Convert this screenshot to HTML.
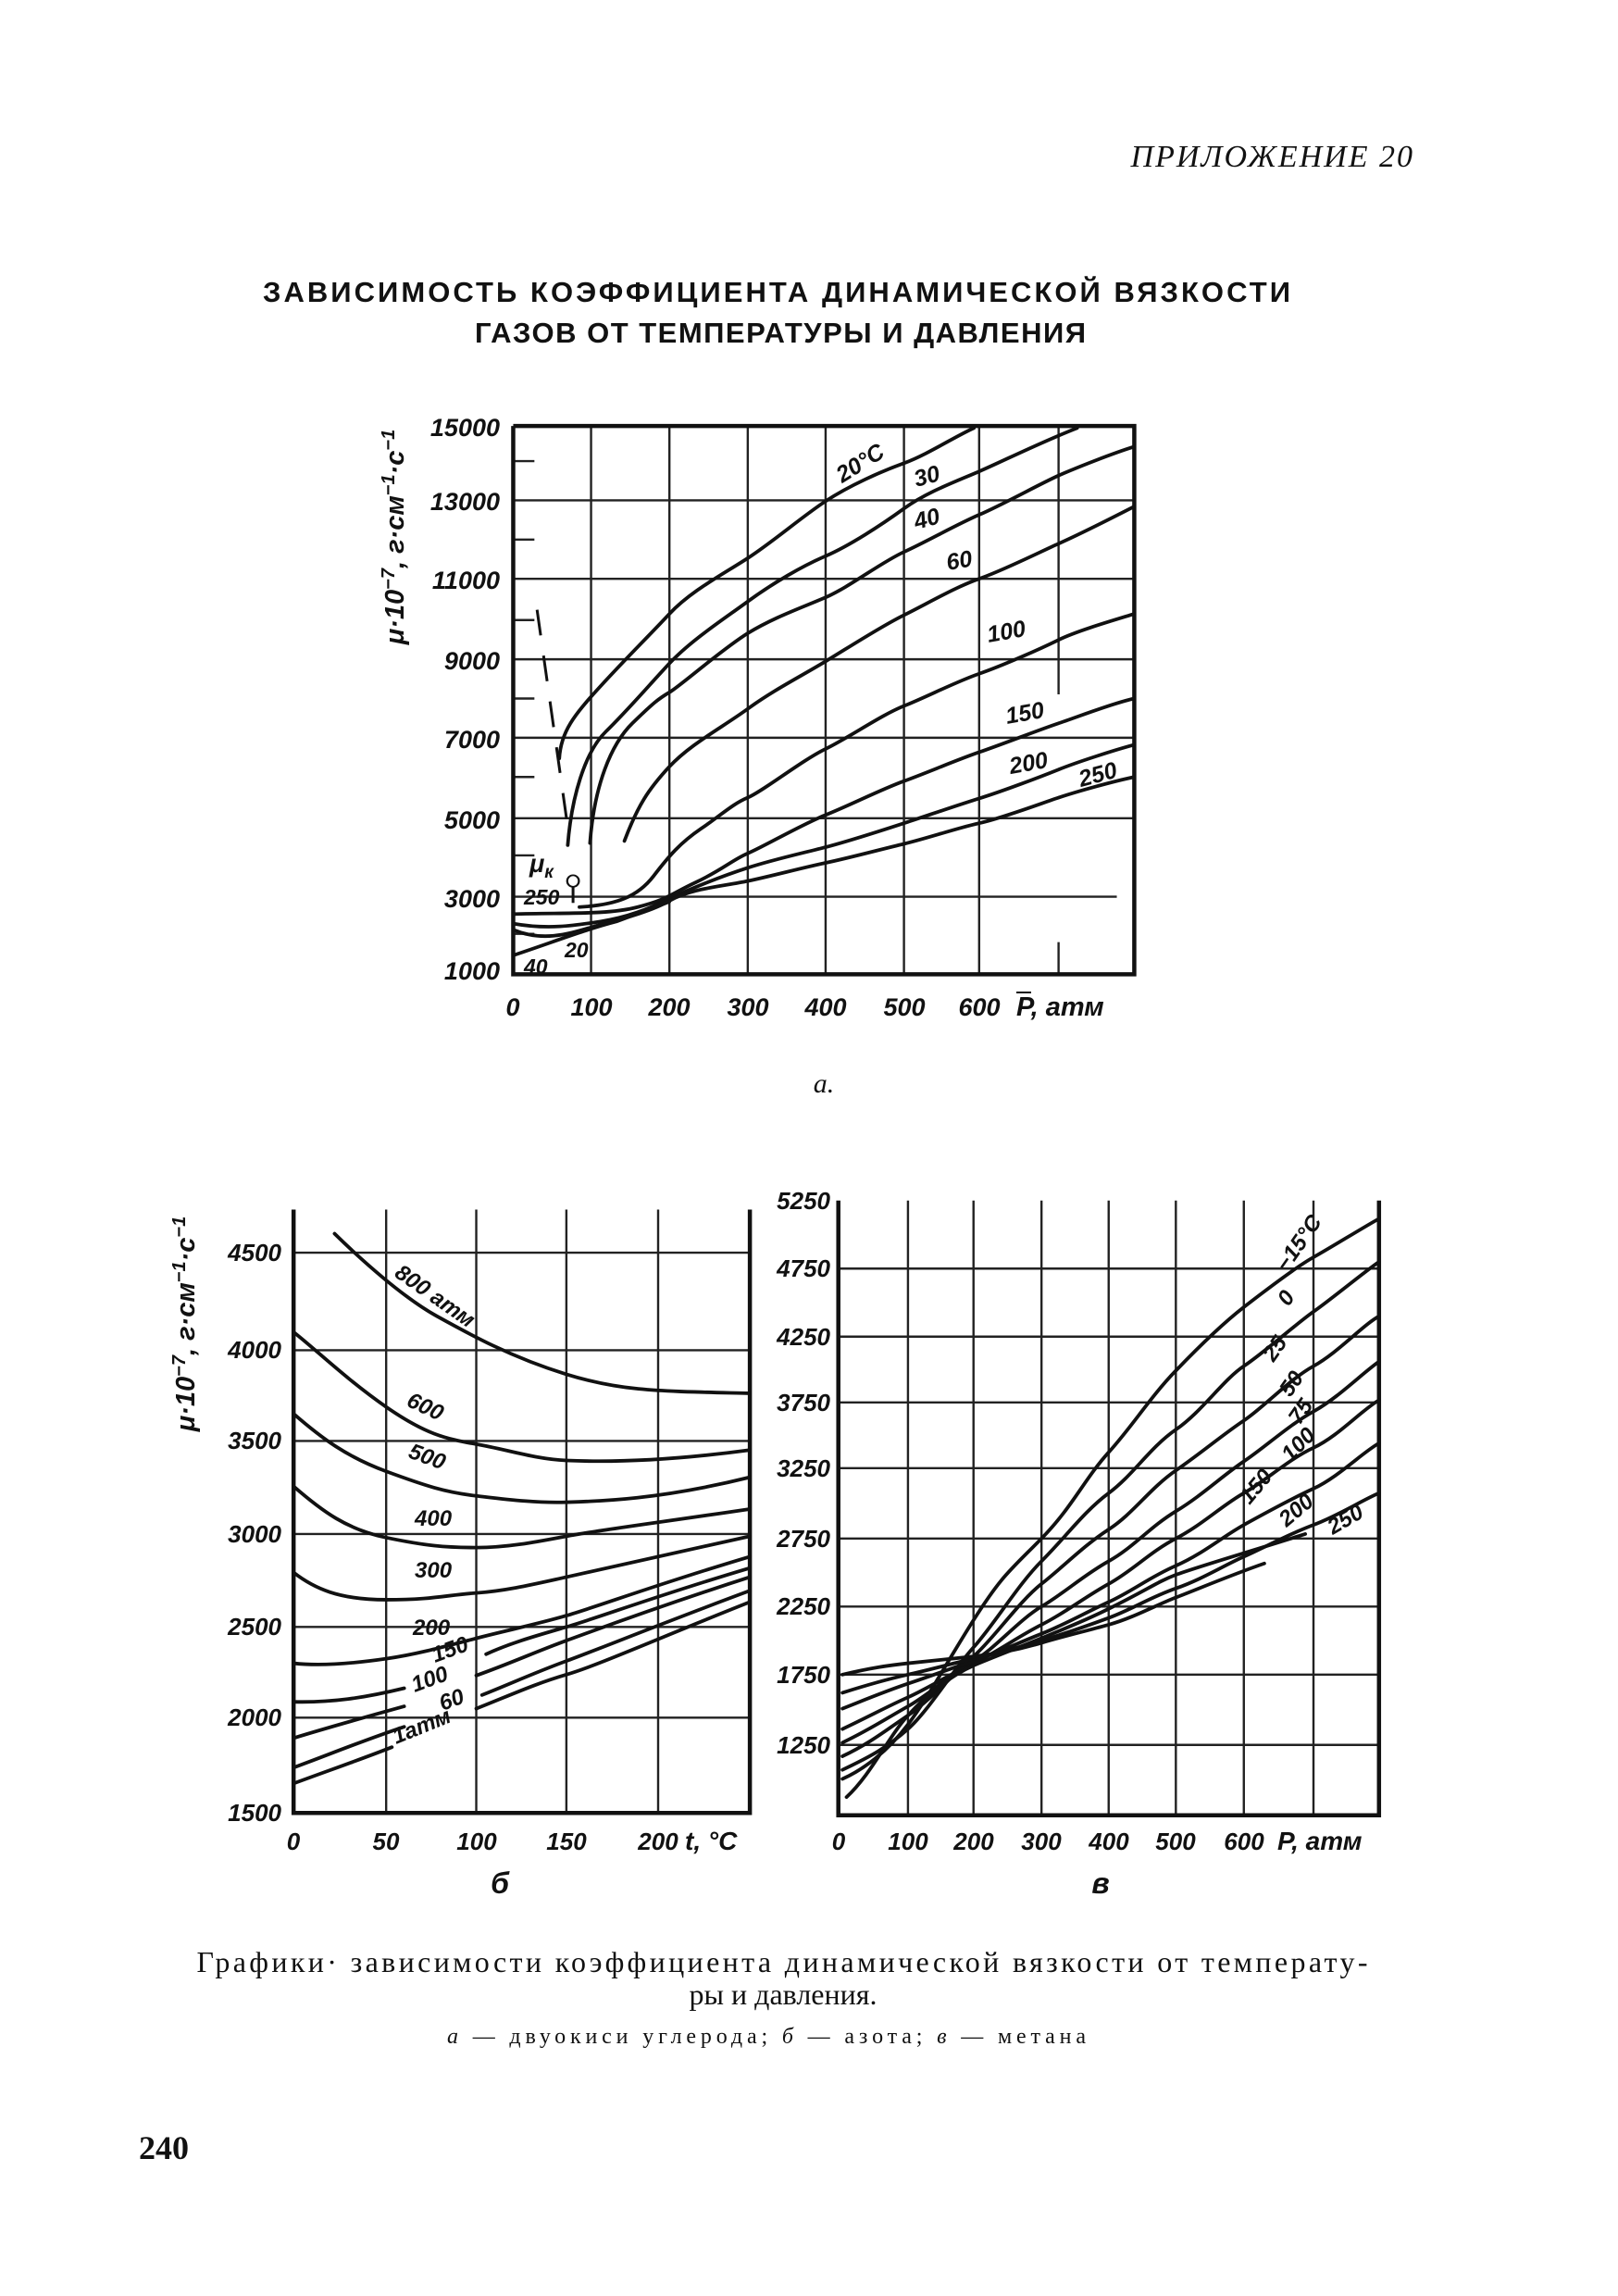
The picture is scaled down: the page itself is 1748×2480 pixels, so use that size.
<!DOCTYPE html>
<html><head><meta charset="utf-8"><style>
html,body{margin:0;padding:0;background:#fff;}
svg{display:block;}
text{font-family:"Liberation Sans","DejaVu Sans",sans-serif;font-style:italic;fill:#111;}
.serif{font-family:"Liberation Serif","DejaVu Serif",serif;font-style:normal;}
.tk{font-weight:bold;}
.c{fill:none;stroke:#111;stroke-width:3.8;stroke-linejoin:round;stroke-linecap:round;}
.g{fill:none;stroke:#222;stroke-width:2.4;}
.ax{fill:none;stroke:#111;stroke-width:4.5;}
</style></head><body>
<svg width="1748" height="2480" viewBox="0 0 1748 2480" xmlns="http://www.w3.org/2000/svg">
<rect width="1748" height="2480" fill="#fff"/>
<text x="1528" y="180" font-size="34" text-anchor="end" class="serif" style="font-style:italic" letter-spacing="2">ПРИЛОЖЕНИЕ 20</text>
<text x="839" y="326" font-size="31" font-weight="900" text-anchor="middle" style="font-style:normal" textLength="1110">ЗАВИСИМОСТЬ КОЭФФИЦИЕНТА ДИНАМИЧЕСКОЙ ВЯЗКОСТИ</text>
<text x="843" y="370" font-size="31" font-weight="900" text-anchor="middle" style="font-style:normal" textLength="660">ГАЗОВ ОТ ТЕМПЕРАТУРЫ И ДАВЛЕНИЯ</text>

<!-- Chart a -->
<g transform="translate(380,420) scale(0.572,0.446)">
<path class="g" vector-effect="non-scaling-stroke" d="M452,90V1418M600,90V1418M748,90V1418M895,90V1418M1043,90V1418M1185,90V1418M1335,90V740M1335,1340V1418M305,270H1478M305,460H1478M305,655H1478M305,845H1478M305,1040H1478M305,1230H1445M305,175H345M305,365H345M305,560H345M305,750H345M305,940H345M305,1130H345M305,1320H345"/>
<path class="ax" vector-effect="non-scaling-stroke" d="M305,90V1418H1478V90H305"/>
<g class="c">
<path vector-effect="non-scaling-stroke" d="M392,895 C395,830 420,790 470,720 S560,600 600,545 S700,450 748,410 S850,310 895,272 S1000,200 1043,180 S1140,115 1175,95"/>
<path vector-effect="non-scaling-stroke" d="M408,1105 C415,990 440,880 480,830 S560,720 600,665 S700,560 748,515 S850,430 895,405 S1000,330 1043,290 S1140,225 1185,200 S1300,130 1370,95"/>
<path vector-effect="non-scaling-stroke" d="M450,1100 C458,960 490,860 530,810 S580,750 600,735 S700,630 748,592 S850,530 895,505 S1000,420 1043,395 S1140,330 1185,305 S1300,230 1335,210 S1440,155 1478,140"/>
<path vector-effect="non-scaling-stroke" d="M515,1095 C540,1010 560,970 600,915 S700,820 748,775 S850,695 895,660 S1000,575 1043,548 S1140,480 1185,460 S1300,395 1335,375 S1440,310 1478,285"/>
<path vector-effect="non-scaling-stroke" d="M430,1255 C500,1250 540,1230 570,1180 S620,1100 660,1065 S720,1005 748,990 S850,900 895,872 S1000,790 1043,768 S1140,710 1185,690 S1300,630 1335,608 S1440,560 1478,545"/>
<path vector-effect="non-scaling-stroke" d="M305,1272 C400,1268 480,1275 540,1255 S600,1225 650,1195 S720,1140 748,1125 S850,1055 895,1032 S1000,970 1043,950 S1140,900 1185,880 S1300,825 1335,810 S1440,760 1478,750"/>
<path vector-effect="non-scaling-stroke" d="M305,1295 C370,1310 420,1300 470,1290 S560,1260 600,1235 S700,1180 748,1160 S850,1125 895,1110 S1000,1070 1043,1052 S1140,1010 1185,992 S1300,940 1335,922 S1440,875 1478,862"/>
<path vector-effect="non-scaling-stroke" d="M305,1310 C360,1340 410,1320 450,1305 S560,1270 600,1240 S700,1205 748,1192 S850,1160 895,1148 S1000,1115 1043,1102 S1140,1065 1185,1052 S1300,1005 1335,990 S1440,950 1478,940"/>
<path vector-effect="non-scaling-stroke" d="M305,1372 C380,1340 440,1310 500,1290 L600,1242"/>
</g>
<path vector-effect="non-scaling-stroke" d="M350,535 L410,1080" stroke="#111" stroke-width="3" stroke-dasharray="28,22" fill="none"/>
<path vector-effect="non-scaling-stroke" d="M418,1205 V1245" stroke="#111" stroke-width="3" fill="none"/>
<ellipse cx="418" cy="1192" rx="11" ry="14" fill="none" stroke="#111" stroke-width="4"/>
</g>
<g font-size="27" text-anchor="end" class="tk">
<text x="540" y="471">15000</text><text x="540" y="551">13000</text><text x="540" y="636">11000</text><text x="540" y="723">9000</text><text x="540" y="808">7000</text><text x="540" y="895">5000</text><text x="540" y="980">3000</text><text x="540" y="1058">1000</text>
</g>
<g font-size="27" text-anchor="middle" class="tk">
<text x="554" y="1097">0</text><text x="639" y="1097">100</text><text x="723" y="1097">200</text><text x="808" y="1097">300</text><text x="892" y="1097">400</text><text x="977" y="1097">500</text><text x="1058" y="1097">600</text>
</g>
<text x="1098" y="1097" font-size="29" class="tk">P, атм</text>
<path d="M1098,1072 H1114" stroke="#111" stroke-width="2"/>
<text x="0" y="0" font-size="29" text-anchor="middle" class="tk" transform="translate(436,580) rotate(-90)">μ·10<tspan dy="-10" font-size="20">−7</tspan><tspan dy="10">, г·см</tspan><tspan dy="-10" font-size="20">−1</tspan><tspan dy="10">·с</tspan><tspan dy="-10" font-size="20">−1</tspan></text>
<g font-size="25" class="tk">
<text transform="translate(910,522) rotate(-32)">20°C</text>
<text transform="translate(990,526) rotate(-15)">30</text>
<text transform="translate(990,572) rotate(-15)">40</text>
<text transform="translate(1024,616) rotate(-10)">60</text>
<text transform="translate(1068,694) rotate(-10)">100</text>
<text transform="translate(1088,782) rotate(-10)">150</text>
<text transform="translate(1092,836) rotate(-10)">200</text>
<text transform="translate(1168,850) rotate(-15)">250</text>
<text x="572" y="942" font-size="27">μ<tspan font-size="19" dy="6">к</tspan></text>
<text x="566" y="977" font-size="23">250</text>
<text x="566" y="1052" font-size="23">40</text>
<text x="610" y="1034" font-size="23">20</text>
</g>
<text x="890" y="1180" font-size="30" text-anchor="middle" class="serif" style="font-style:italic">а.</text>

<!-- Charts b and в -->
<g transform="translate(180,1260) scale(0.885,0.49)">
<path class="g" vector-effect="non-scaling-stroke" d="M268,95V1425M378,95V1425M488,95V1425M600,95V1425M155,190H712M155,405H712M155,605H712M155,810H712M155,1015H712M155,1215H712"/>
<path class="ax" vector-effect="non-scaling-stroke" d="M155,95V1425H712V95"/>
<path class="g" vector-effect="non-scaling-stroke" d="M905,75V1430M985,75V1430M1068,75V1430M1150,75V1430M1232,75V1430M1315,75V1430M1400,75V1430M820,225H1480M820,375H1480M820,520H1480M820,665H1480M820,820H1480M820,970H1480M820,1120H1480M820,1275H1480"/>
<path class="ax" vector-effect="non-scaling-stroke" d="M820,75V1430H1480V75"/>
<g class="c">
<path vector-effect="non-scaling-stroke" d="M205,148 C240,210 290,290 330,330 S420,420 488,458 S600,495 712,500"/>
<path vector-effect="non-scaling-stroke" d="M155,365 C180,400 220,470 268,530 S340,600 378,612 S450,645 488,648 S600,652 712,625"/>
<path vector-effect="non-scaling-stroke" d="M155,545 C190,600 220,640 268,672 S340,718 378,726 S450,742 488,740 S600,735 712,685"/>
<path vector-effect="non-scaling-stroke" d="M155,705 C190,760 220,800 268,818 S340,840 378,840 S450,828 488,815 S600,785 712,755"/>
<path vector-effect="non-scaling-stroke" d="M155,895 C180,930 210,955 268,955 S340,945 378,940 S450,920 488,905 S600,860 712,815"/>
<path vector-effect="non-scaling-stroke" d="M155,1095 C190,1102 230,1095 268,1085 S340,1058 378,1040 S450,1010 488,990 S600,920 712,860"/>
<path vector-effect="non-scaling-stroke" d="M155,1180 C200,1182 240,1172 290,1150 M390,1075 C420,1050 450,1035 488,1015 S600,945 712,885"/>
<path vector-effect="non-scaling-stroke" d="M155,1260 C200,1235 240,1215 290,1190 M378,1122 C420,1095 450,1070 488,1045 S600,970 712,905"/>
<path vector-effect="non-scaling-stroke" d="M155,1325 C200,1295 240,1265 290,1235 M385,1165 C420,1140 450,1115 488,1090 S600,1010 712,935"/>
<path vector-effect="non-scaling-stroke" d="M155,1360 C200,1330 240,1305 275,1280 M378,1195 C420,1165 450,1140 488,1120 S600,1040 712,960"/>
<path vector-effect="non-scaling-stroke" d="M825,1350 C850,1330 880,1290 905,1230 S950,1100 985,1000 S1030,890 1068,820 S1120,690 1150,630 S1200,510 1232,450 S1290,345 1315,310 S1380,220 1400,200 S1460,135 1480,115"/>
<path vector-effect="non-scaling-stroke" d="M825,1330 C860,1300 880,1280 905,1240 S960,1110 985,1060 S1040,920 1068,870 S1120,760 1150,720 S1200,620 1232,580 S1290,470 1315,440 S1380,345 1400,320 S1460,235 1480,210"/>
<path vector-effect="non-scaling-stroke" d="M825,1300 C860,1270 880,1240 905,1210 S960,1120 985,1080 S1040,960 1068,920 S1120,835 1150,800 S1200,710 1232,670 S1290,590 1315,560 S1370,470 1400,440 S1460,350 1480,330"/>
<path vector-effect="non-scaling-stroke" d="M825,1270 C860,1240 880,1215 905,1190 S960,1115 985,1090 S1040,1000 1068,970 S1120,900 1150,870 S1200,795 1232,760 S1290,680 1315,650 S1370,570 1400,540 S1460,455 1480,430"/>
<path vector-effect="non-scaling-stroke" d="M825,1240 C860,1210 880,1190 905,1170 S960,1115 985,1095 S1040,1035 1068,1010 S1120,950 1150,920 S1200,850 1232,820 S1290,745 1315,720 S1370,645 1400,620 S1460,535 1480,515"/>
<path vector-effect="non-scaling-stroke" d="M825,1195 C860,1170 880,1155 905,1140 S960,1105 985,1090 S1040,1050 1068,1030 S1120,985 1150,960 S1200,905 1232,880 S1290,815 1315,790 S1370,735 1400,710 S1460,630 1480,610"/>
<path vector-effect="non-scaling-stroke" d="M825,1160 C860,1140 880,1130 905,1120 S960,1095 985,1085 S1040,1060 1068,1045 S1120,1015 1150,995 S1200,950 1232,930 S1290,880 1315,860 S1370,810 1400,790 S1460,735 1480,720"/>
<path vector-effect="non-scaling-stroke" d="M825,1120 C860,1105 880,1100 905,1095 S960,1085 985,1080 S1040,1065 1068,1050 S1120,1025 1150,1010 S1210,965 1232,950 S1300,900 1340,875"/>
<path vector-effect="non-scaling-stroke" d="M830,1390 C860,1340 880,1260 905,1210 S960,1120 985,1100 S1100,1020 1150,975 S1210,915 1232,900 S1320,850 1390,810"/>
</g>
</g>
<g font-size="26" text-anchor="end" class="tk">
<text x="304" y="1362">4500</text><text x="304" y="1467">4000</text><text x="304" y="1565">3500</text><text x="304" y="1666">3000</text><text x="304" y="1766">2500</text><text x="304" y="1864">2000</text><text x="304" y="1967">1500</text>
<text x="897" y="1306">5250</text><text x="897" y="1379">4750</text><text x="897" y="1453">4250</text><text x="897" y="1524">3750</text><text x="897" y="1595">3250</text><text x="897" y="1671">2750</text><text x="897" y="1744">2250</text><text x="897" y="1818">1750</text><text x="897" y="1894">1250</text>
</g>
<g font-size="26" text-anchor="middle" class="tk">
<text x="317" y="1998">0</text><text x="417" y="1998">50</text><text x="515" y="1998">100</text><text x="612" y="1998">150</text><text x="711" y="1998">200</text>
<text x="906" y="1998">0</text><text x="981" y="1998">100</text><text x="1052" y="1998">200</text><text x="1125" y="1998">300</text><text x="1198" y="1998">400</text><text x="1270" y="1998">500</text><text x="1344" y="1998">600</text>
</g>
<text x="740" y="1998" font-size="28" class="tk">t, °C</text>
<text x="1380" y="1998" font-size="28" class="tk">P, атм</text>
<text x="0" y="0" font-size="29" text-anchor="middle" class="tk" transform="translate(210,1430) rotate(-90)">μ·10<tspan dy="-10" font-size="20">−7</tspan><tspan dy="10">, г·см</tspan><tspan dy="-10" font-size="20">−1</tspan><tspan dy="10">·с</tspan><tspan dy="-10" font-size="20">−1</tspan></text>
<g font-size="24" class="tk">
<text transform="translate(425,1378) rotate(35)">800 атм</text>
<text transform="translate(438,1518) rotate(25)">600</text>
<text transform="translate(440,1574) rotate(20)">500</text>
<text transform="translate(448,1648)">400</text>
<text transform="translate(448,1704)">300</text>
<text transform="translate(446,1766)">200</text>
<text transform="translate(470,1796) rotate(-20)">150</text>
<text transform="translate(448,1828) rotate(-20)">100</text>
<text transform="translate(478,1848) rotate(-20)">60</text>
<text transform="translate(428,1884) rotate(-22)">1атм</text>
<text transform="translate(1390,1375) rotate(-55)">−15°C</text>
<text transform="translate(1392,1412) rotate(-55)">0</text>
<text transform="translate(1376,1472) rotate(-55)">25</text>
<text transform="translate(1394,1510) rotate(-55)">50</text>
<text transform="translate(1404,1540) rotate(-55)">75</text>
<text transform="translate(1394,1580) rotate(-45)">100</text>
<text transform="translate(1350,1626) rotate(-50)">150</text>
<text transform="translate(1390,1650) rotate(-40)">200</text>
<text transform="translate(1440,1658) rotate(-30)">250</text>
</g>
<text x="540" y="2045" font-size="32" text-anchor="middle" class="tk">б</text>
<text x="1189" y="2045" font-size="32" text-anchor="middle" class="tk">в</text>

<text x="845" y="2130" font-size="32" text-anchor="middle" class="serif" textLength="1265">Графики· зависимости коэффициента динамической вязкости от температу-</text>
<text x="846" y="2165" font-size="32" text-anchor="middle" class="serif">ры и давления.</text>
<text x="828" y="2207" font-size="24" text-anchor="middle" class="serif" textLength="690"><tspan style="font-style:italic">а</tspan> — двуокиси углерода; <tspan style="font-style:italic">б</tspan> — азота; <tspan style="font-style:italic">в</tspan> — метана</text>
<text x="150" y="2332" font-size="36" font-weight="bold" class="serif">240</text>
</svg>
</body></html>
